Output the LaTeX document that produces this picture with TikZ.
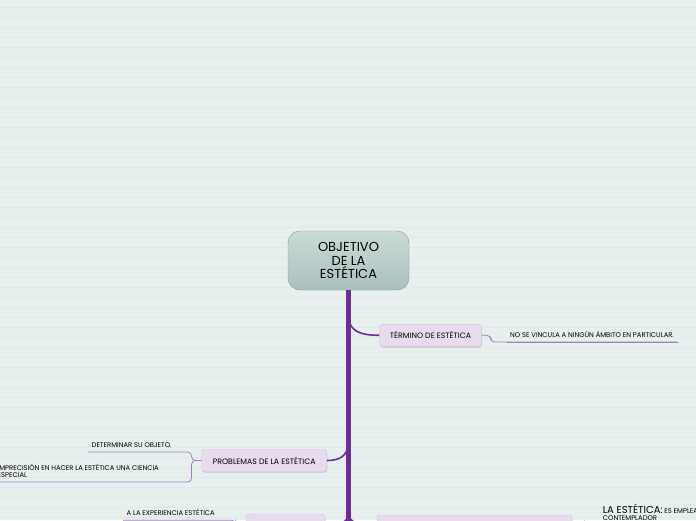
\documentclass[tikz,border=0pt]{standalone}
\usepackage{fontspec}
\setmainfont{Poppins}
\usetikzlibrary{positioning,shadows,calc}
\definecolor{fondo}{RGB}{232,240,239}
\definecolor{raya}{RGB}{223,233,232}
\definecolor{morado}{RGB}{108,45,148}
\definecolor{lila}{RGB}{231,219,237}
\definecolor{lilaborde}{RGB}{208,192,218}
\definecolor{hilo}{RGB}{158,128,190}
\definecolor{gristop}{RGB}{203,218,215}
\definecolor{grisbot}{RGB}{170,192,188}
\definecolor{grisborde}{RGB}{125,155,150}

\begin{document}
\begin{tikzpicture}[x=1pt,y=-1pt]
\tikzstyle{raiz}=[draw=grisborde,rounded corners=12pt,top color=gristop,bottom color=grisbot,minimum width=121pt,minimum height=59pt,align=center,inner sep=0pt,font=\fontsize{13}{13.5}\selectfont]
\tikzstyle{tema}=[draw=lilaborde,fill=lila,rounded corners=3pt,minimum height=22pt,inner sep=0pt,drop shadow={shadow xshift=0.6pt,shadow yshift=-1.4pt,opacity=0.25},font=\fontsize{7.8}{9}\selectfont]
\tikzstyle{hoja}=[anchor=south west,align=left,inner xsep=3.5pt,inner ysep=4.4pt,text depth=0pt,font=\fontsize{6.8}{7.3}\selectfont]
\tikzstyle{rama}=[morado,line width=1.6pt]
\tikzstyle{fino}=[hilo,line width=0.8pt,rounded corners=4pt]
\clip (0,0) rectangle (696,520);
\fill[fondo] (0,0) rectangle (696,520);
\foreach \y in {7,17,...,517} \draw[raya,line width=0.6pt] (0,\y) -- (696,\y);
% nodos
\node[raiz](obj) at (348.5,260.5){OBJETIVO\\DE LA\\ESTÉTICA};
\node[tema,minimum width=102pt](term) at (430.5,335.3){TÉRMINO DE ESTÉTICA};
\node[tema,minimum width=125pt](prob) at (264.2,460.5){PROBLEMAS DE LA ESTÉTICA};
\node[tema,minimum width=79pt](expe) at (285.5,525){};
\node[tema,minimum width=195pt](def) at (474.5,526){};
% hojas
\node[hoja](nov) at (506.5,342){NO SE VINCULA A NINGÚN ÁMBITO EN PARTICULAR.};
\node[hoja](det) at (88,452){DETERMINAR SU OBJETO.};
\node[hoja](imp) at (-6,482){IMPRECISIÓN EN HACER LA ESTÉTICA UNA CIENCIA\\ESPECIAL};
\node[hoja](aexp) at (123,520.3){A LA EXPERIENCIA ESTÉTICA};
\node[hoja,inner xsep=0pt](lae) at (602.7,525){{\fontsize{10}{10}\selectfont LA ESTÉTICA:} ES EMPLEADO\\CONTEMPLADOR};
% ramas
\draw[morado,line width=5pt](obj.south)--(348.5,521);
\draw[rama](348.5,318)..controls(350,331)and(360,335.3)..(term.west);
\draw[rama](348.5,444)..controls(347,456)and(340,460.5)..(prob.east);
\draw[rama](348.5,514)..controls(348.5,522)and(340,525)..(expe.east);
\draw[rama](348.5,514)..controls(348.5,522)and(360,526)..(def.west);
\draw[fino](term.east)--++(9,0)|-(nov.south east);
\draw[fino](nov.south east)--(nov.south west);
\draw[fino](prob.west)--++(-10,0)|-(det.south east)--(det.south west);
\draw[fino](prob.west)--++(-10,0)|-(imp.south east)--(imp.south west);
\draw[fino](expe.west)--++(-10,0)|-(aexp.south east)--(aexp.south west);
\draw[fino](def.east)--++(12,0)|-(lae.south west)--(lae.south east);
\end{tikzpicture}
\end{document}
